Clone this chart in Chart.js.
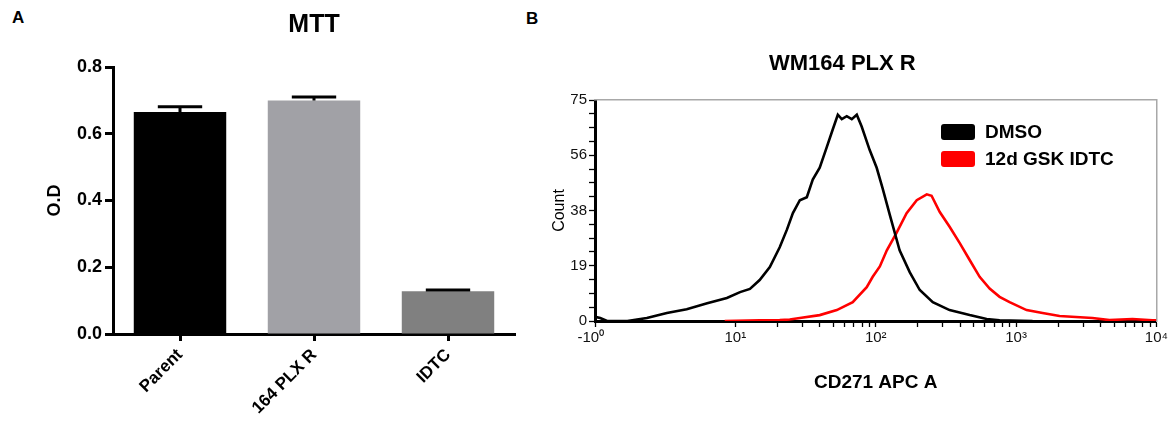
<!DOCTYPE html>
<html><head><meta charset="utf-8">
<script src="https://cdn.jsdelivr.net/npm/chart.js@4.4.1/dist/chart.umd.min.js"></script>
<style>
html,body{margin:0;padding:0;background:#fff;}
body{width:1170px;height:429px;position:relative;overflow:hidden;font-family:'Liberation Sans',Arial,sans-serif;}
#wa{position:absolute;left:0;top:0;width:530px;height:429px;}
#wb{position:absolute;left:530px;top:0;width:640px;height:429px;}
.pl{position:absolute;font-weight:bold;font-size:17px;line-height:20px;color:#000;}
#legend{position:absolute;left:941px;top:118px;}
.li{display:flex;align-items:center;height:27px;font-weight:bold;font-size:19px;color:#000;white-space:nowrap;}
.sw{width:34px;height:16px;border-radius:3px;margin-right:10px;}
</style></head><body>
<div class="pl" style="left:12px;top:8px">A</div>
<div class="pl" style="left:526px;top:9px">B</div>
<div id="wa"><canvas id="ca"></canvas></div>
<div id="wb"><canvas id="cb"></canvas></div>
<div id="legend"></div>
<script>
// ---------- Panel A data ----------
const catsA = ['Parent', '164 PLX R', 'IDTC'];
const odMean = [0.665, 0.700, 0.128];
const odSem = [0.016, 0.010, 0.004];
const barColors = ['#000000', '#a1a1a6', '#808080'];
const yTicksA = [0, 0.2, 0.4, 0.6, 0.8];
const yTickLabelsA = ['0.0', '0.2', '0.4', '0.6', '0.8'];

// ---------- Panel B data ----------
const dmsoX = [1, 1.09, 1.22, 1.7, 2.34, 3.25, 4.5, 6.3, 8.7, 10.8, 12.7, 14.9, 17.6, 20.7, 23.3, 25.7, 28.8, 32.3, 35.6, 39.9, 44.8, 49.4, 53.7, 57.3, 62.2, 67.5, 73.3, 79.4, 90.6, 101.6, 112, 126, 148, 175, 206, 255, 336, 467, 617, 763, 1310];
const dmsoCount = [1.4, 1.0, 0, 0, 1.0, 2.7, 4.0, 6.0, 7.8, 9.8, 10.9, 13.9, 18.3, 25, 31, 36.6, 41, 42, 48, 52, 59, 65, 70, 68.5, 69.5, 68.5, 70, 66, 58, 52, 45, 36, 24, 16.5, 10.5, 6.4, 3.7, 2.0, 0.7, 0.2, 0];
const gskX = [8.4, 14.9, 20.7, 24.4, 28.8, 39.9, 52.8, 68.6, 86.3, 95.2, 107, 120, 141, 166, 196, 231, 250, 286, 336, 396, 467, 550, 648, 763, 899, 1188, 1545, 2041, 3501, 4628, 6745, 9370, 10000];
const gskCount = [0, 0.2, 0.3, 0.5, 1.0, 2.0, 3.7, 6.4, 11.5, 15, 18.5, 24, 30, 36.6, 41, 43, 42.5, 37, 32, 26.5, 20.7, 15, 11, 8.2, 6.4, 3.7, 2.7, 1.7, 1.0, 0.3, 0.7, 0.2, 0.2];
const seriesLabels = ['DMSO', '12d GSK IDTC'];
const seriesColors = ['#000000', '#ff0000'];
const xMajorB = [1, 10, 100, 1000, 10000];
const xTickLabelsB = ['-10\u2070  ', '10\u00b9', '10\u00b2', '10\u00b3', '10\u2074'];
const yTicksB = [0, 18.75, 37.5, 56.25, 75];
const yTickLabelsB = ['0', '19', '38', '56', '75'];

const F = "'Liberation Sans', Arial, sans-serif";

// ---------- Panel A ----------
const errorBars = {
  id: 'errorBars',
  afterDatasetsDraw(chart) {
    const meta = chart.getDatasetMeta(0);
    const y = chart.scales.y;
    const ctx = chart.ctx;
    ctx.save();
    ctx.strokeStyle = '#000';
    ctx.lineWidth = 3;
    meta.data.forEach((bar, i) => {
      const base = y.getPixelForValue(odMean[i]);
      const top = y.getPixelForValue(odMean[i] + odSem[i]);
      const half = bar.width * 0.24;
      ctx.beginPath();
      ctx.moveTo(bar.x, base); ctx.lineTo(bar.x, top);
      ctx.moveTo(bar.x - half, top); ctx.lineTo(bar.x + half, top);
      ctx.stroke();
    });
    ctx.restore();
  }
};

new Chart(document.getElementById('ca'), {
  type: 'bar',
  data: {
    labels: catsA,
    datasets: [{ data: odMean, backgroundColor: barColors, borderWidth: 0, barPercentage: 0.69, categoryPercentage: 1 }]
  },
  options: {
    responsive: true, maintainAspectRatio: false, animation: false, devicePixelRatio: 1,
    layout: { padding: { left: 40, right: 15, top: 0, bottom: 0 } },
    plugins: {
      legend: { display: false }, tooltip: { enabled: false },
      title: { display: true, text: 'MTT', color: '#000', fullSize: false,
        font: { family: F, size: 25, weight: 'bold' }, padding: { top: 10, bottom: 27 } }
    },
    scales: {
      x: {
        grid: { display: true, offset: false, drawOnChartArea: false, drawTicks: true, tickLength: 7, tickWidth: 3, tickColor: '#000' },
        border: { display: true, color: '#000', width: 3 },
        ticks: { color: '#000', font: { family: F, size: 17, weight: 'bold' }, minRotation: 45, maxRotation: 45, padding: 4 },
        afterFit: s => { s.height = 95; }
      },
      y: {
        min: 0, max: 0.8,
        afterBuildTicks: s => { s.ticks = yTicksA.map(v => ({ value: v })); },
        ticks: { color: '#000', font: { family: F, size: 18, weight: 'bold' }, padding: 3,
          callback: (v, i) => yTickLabelsA[i] },
        grid: { drawOnChartArea: false, drawTicks: true, tickLength: 8, tickWidth: 3, tickColor: '#000' },
        border: { display: true, color: '#000', width: 3 },
        title: { display: true, text: 'O.D', color: '#000', font: { family: F, size: 18, weight: 'bold' }, padding: { top: 4, bottom: 0 } },
        afterFit: s => { s.width = 73; }
      }
    }
  },
  plugins: [errorBars]
});

// ---------- Panel B ----------
const xTickValsB = [];
xMajorB.forEach((m, k) => {
  xTickValsB.push(m);
  if (k > 0 && k < xMajorB.length - 1) { for (let j = 2; j <= 9; j++) xTickValsB.push(m * j); }
});
xTickValsB.sort((a, b) => a - b);
const yTickValsB = [];
for (let i = 0; i <= 16; i++) yTickValsB.push(i * 75 / 16);

const chartB = new Chart(document.getElementById('cb'), {
  type: 'line',
  data: {
    datasets: [
      { label: seriesLabels[0], data: dmsoX.map((x, i) => ({ x: x, y: dmsoCount[i] })),
        borderColor: seriesColors[0], backgroundColor: seriesColors[0], borderWidth: 2.6, pointRadius: 0, tension: 0, fill: false },
      { label: seriesLabels[1], data: gskX.map((x, i) => ({ x: x, y: gskCount[i] })),
        borderColor: seriesColors[1], backgroundColor: seriesColors[1], borderWidth: 2.6, pointRadius: 0, tension: 0, fill: false }
    ]
  },
  options: {
    responsive: true, maintainAspectRatio: false, animation: false, devicePixelRatio: 1,
    layout: { padding: { left: 16, right: 13, top: 0, bottom: 0 } },
    plugins: {
      legend: { display: false }, tooltip: { enabled: false },
      title: { display: true, text: 'WM164 PLX R   ', color: '#000',
        font: { family: F, size: 22, weight: 'bold' }, padding: { top: 51, bottom: 22.6 } }
    },
    scales: {
      x: {
        type: 'logarithmic', min: 1, max: 10000,
        afterBuildTicks: s => { s.ticks = xTickValsB.map(v => ({ value: v, major: xMajorB.includes(v) })); },
        ticks: { autoSkip: false, minRotation: 0, maxRotation: 0, color: '#111', padding: 2,
          font: { family: F, size: 15 },
          callback: (v) => { const i = xMajorB.indexOf(v); return i < 0 ? '' : xTickLabelsB[i]; } },
        grid: { drawOnChartArea: false, drawTicks: true, tickLength: 6, tickWidth: 1.3, tickColor: '#000' },
        border: { display: true, color: '#000', width: 3 },
        title: { display: true, text: 'CD271 APC A', color: '#000', font: { family: F, size: 19, weight: 'bold' }, padding: { top: 0, bottom: 35 } },
        afterFit: s => { s.height = 108; }
      },
      y: {
        min: 0, max: 75,
        afterBuildTicks: s => { s.ticks = yTickValsB.map(v => ({ value: v })); },
        ticks: { autoSkip: false, color: '#111', padding: 2, font: { family: F, size: 15 },
          callback: (v) => { const i = yTicksB.indexOf(v); return i < 0 ? '' : yTickLabelsB[i]; } },
        grid: { drawOnChartArea: false, drawTicks: true, tickLength: 6, tickWidth: 1.3, tickColor: '#000' },
        border: { display: true, color: '#000', width: 3 },
        title: { display: true, text: 'Count', color: '#000', font: { family: F, size: 16 }, padding: { top: 4, bottom: 0 } },
        afterFit: s => { s.width = 49; }
      },
      xTop: {
        type: 'linear', position: 'top', min: 0, max: 1,
        grid: { display: false, drawTicks: false }, ticks: { display: false },
        border: { display: true, color: '#a8a8a8', width: 1.5 },
        afterFit: s => { s.height = 0; }
      },
      yRight: {
        type: 'linear', position: 'right', min: 0, max: 1,
        grid: { display: false, drawTicks: false }, ticks: { display: false },
        border: { display: true, color: '#a8a8a8', width: 1.5 },
        afterFit: s => { s.width = 0; }
      }
    }
  }
});

// HTML legend built from the chart's datasets
const lg = document.getElementById('legend');
chartB.data.datasets.forEach(ds => {
  const row = document.createElement('div'); row.className = 'li';
  const sw = document.createElement('div'); sw.className = 'sw'; sw.style.background = ds.borderColor;
  const tx = document.createElement('span'); tx.textContent = ds.label;
  row.appendChild(sw); row.appendChild(tx); lg.appendChild(row);
});
</script>
</body></html>
